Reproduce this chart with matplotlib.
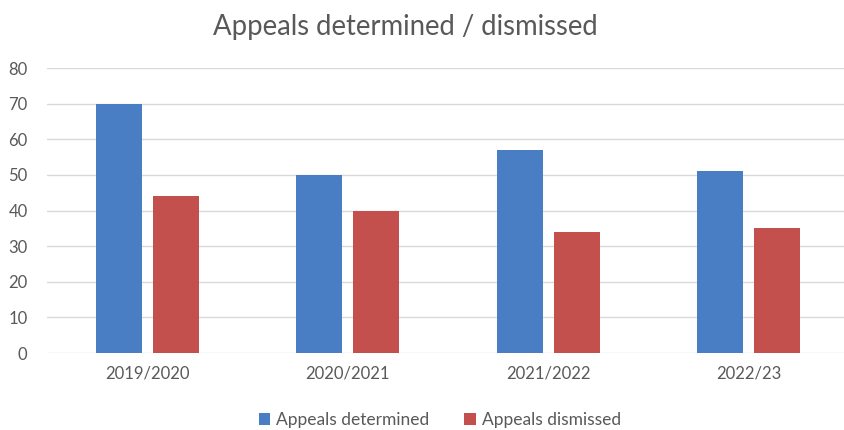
import matplotlib
matplotlib.use("Agg")
import matplotlib.pyplot as plt
import numpy as np

years = ["2019/2020", "2020/2021", "2021/2022", "2022/23"]
determined = [70, 50, 57, 51]
dismissed = [44, 40, 34, 35]

BLUE = "#4a7ec4"
RED = "#c4504d"
GREY = "#595959"

plt.rcParams["font.family"] = ["Lato", "DejaVu Sans"]

fig = plt.figure(figsize=(8.45, 4.3), dpi=100)
ax = fig.add_axes([47 / 845, 1 - 353 / 430, 1 - 47 / 845, (353 - 68) / 430])

x = np.arange(len(years))
w = 0.23
off = 0.143
ax.bar(x - off, determined, w, color=BLUE, label="Appeals determined", zorder=3)
ax.bar(x + off, dismissed, w, color=RED, label="Appeals dismissed", zorder=3)

ax.set_xlim(-0.5, 3.48)
ax.set_ylim(0, 80)
ax.set_yticks(range(0, 81, 10))
ax.set_xticks(x)
ax.set_xticklabels(years)
ax.yaxis.grid(True, color="#d9d9d9", linewidth=1, zorder=0)
for s in ax.spines.values():
    s.set_visible(False)
ax.tick_params(axis="both", length=0, labelsize=12, colors=GREY)
ax.tick_params(axis="y", pad=14)
ax.tick_params(axis="x", pad=9)

fig.text(405 / 845, 1 - 27 / 430, "Appeals determined / dismissed",
         ha="center", va="center", fontsize=19.8, color=GREY)

fig.legend(loc="center", bbox_to_anchor=(440 / 845, 1 - 420 / 430), ncol=2,
           frameon=False, fontsize=12.5, labelcolor=GREY, handlelength=0.65,
           handleheight=0.65, handletextpad=0.35, columnspacing=2.0)

fig.savefig("out.png", dpi=100)
